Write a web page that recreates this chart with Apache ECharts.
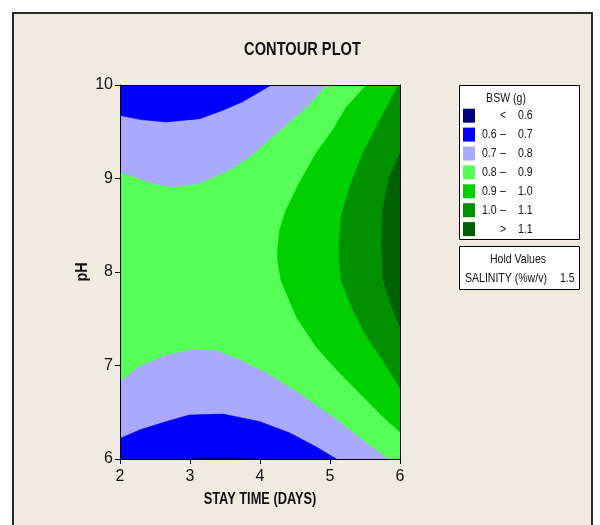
<!DOCTYPE html>
<html><head><meta charset="utf-8">
<script src="https://cdn.jsdelivr.net/npm/echarts@6/dist/echarts.min.js"></script>
<style>html,body{margin:0;padding:0;background:#fff}#c{width:600px;height:525px}</style>
</head><body><div id="c"></div>
<script>
// ---- data ----
const xTicks = [2, 3, 4, 5, 6];          // STAY TIME (DAYS)
const yTicks = [6, 7, 8, 9, 10];         // pH
const levelLow  = ['',  '0.6', '0.7', '0.8', '0.9', '1.0', ''];
const levelSign = ['<', '–',   '–',   '–',   '–',   '–',   '>'];
const levelHigh = ['0.6', '0.7', '0.8', '0.9', '1.0', '1.1', '1.1'];
const levelColors = ['#00007F', '#0000FF', '#A9A9FF', '#55FF55', '#00D000', '#009000', '#006200'];
const titleText = 'CONTOUR PLOT';
const xName = 'STAY TIME (DAYS)';
const yName = 'pH';
const legendTitle = 'BSW (g)';
const holdTitle = 'Hold Values';
const holdName = 'SALINITY (%w/v)';
const holdValue = '1.5';
// contour lines, points as [stay time, pH]
const c07Top = [[2,9.675],[2.3,9.63],[2.66,9.605],[3.14,9.64],[3.47,9.73],[3.75,9.82],[4.16,10]];
const c08Top = [[2,9.07],[2.42,8.96],[2.73,8.91],[3.14,8.95],[3.56,9.09],[3.85,9.23],[4.23,9.48],[4.66,9.76],[4.95,10]];
const c09 = [[5.52,10],[5.23,9.76],[5.04,9.52],[4.80,9.27],[4.56,8.95],[4.37,8.66],[4.28,8.45],[4.25,8.23],[4.25,8.13],[4.30,7.91],[4.52,7.52],[4.80,7.20],[5.14,6.92],[5.52,6.63],[5.80,6.42],[6.0,6.29]];
const c10 = [[5.98,10],[5.71,9.62],[5.47,9.27],[5.28,8.91],[5.16,8.59],[5.13,8.27],[5.13,8.13],[5.16,7.91],[5.33,7.59],[5.52,7.31],[5.75,7.06],[6.0,6.76]];
const c11 = [[6.0,9.27],[5.85,9.02],[5.75,8.66],[5.74,8.27],[5.75,8.13],[5.76,7.91],[5.87,7.66],[6.0,7.41]];
const c08Bot = [[2,6.83],[2.28,6.99],[2.66,7.11],[3.04,7.17],[3.37,7.16],[3.71,7.06],[4.09,6.92],[4.56,6.70],[5.04,6.45],[5.47,6.20],[5.83,6.0]];
const c07Bot = [[2,6.22],[2.28,6.31],[2.66,6.40],[2.99,6.47],[3.47,6.48],[3.99,6.40],[4.42,6.28],[4.80,6.13],[5.09,6.0]];
const c06Bot = [[3.0,6.0],[3.3,6.02],[3.6,6.02],[3.95,6.0]];

// ---- build regions (painted in order) ----
const X0 = xTicks[0], X1 = xTicks[xTicks.length-1], Y0 = yTicks[0], Y1 = yTicks[yTicks.length-1];
const regions = [
  {level: 3, pts: [[X0,Y0],[X1,Y0],[X1,Y1],[X0,Y1]]},
  {level: 2, pts: c08Top.concat([[X0,Y1]])},
  {level: 1, pts: c07Top.concat([[X0,Y1]])},
  {level: 2, pts: c08Bot.concat([[X0,Y0]])},
  {level: 1, pts: c07Bot.concat([[X0,Y0]])},
  {level: 0, pts: c06Bot},
  {level: 4, pts: c09.concat([[X1,Y1]])},
  {level: 5, pts: c10.concat([[X1,Y1]])},
  {level: 6, pts: c11}
];

const FONT = '"Liberation Sans", Arial, sans-serif';
const NARROW = 0.78;
const chart = echarts.init(document.getElementById('c'));

function txt(x, y, text, opt) {
  opt = opt || {};
  return {
    type: 'text', x: x, y: y, scaleX: opt.scaleX || NARROW, scaleY: 1, rotation: opt.rotation || 0, z: 11, silent: true,
    style: {text: text, font: (opt.bold ? 'bold ' : '') + (opt.size || 13.5) + 'px ' + FONT,
            fill: '#111', align: opt.align || 'left', verticalAlign: 'middle'}
  };
}

// grid geometry
const G = {left: 120, right: 200, top: 85, bottom: 66};

const els = [];
els.push({type:'rect', shape:{x:13, y:13, width:579, height:540}, style:{fill:'#EFEBE1', stroke:'#2a2a2a', lineWidth:2}, z:-10, silent:true});
els.push(txt(302.5, 50, titleText, {bold: true, size: 19, align: 'center', scaleX: 0.77}));
els.push(txt(260, 500, xName, {bold: true, size: 16, align: 'center', scaleX: 0.8}));
els.push(txt(83, 272, yName, {bold: true, size: 16, align: 'center', scaleX: 0.9, rotation: Math.PI / 2}));
// legend
els.push({type:'rect', shape:{x:459.5, y:85.5, width:120, height:154}, style:{fill:'#fff', stroke:'#000', lineWidth:1}, z:10, silent:true});
els.push(txt(506, 98, legendTitle, {align: 'center'}));
for (let i = 0; i < levelColors.length; i++) {
  const cy = 115.7 + i * 18.9;
  els.push({type:'rect', shape:{x:463, y:cy-7, width:12, height:14}, style:{fill:levelColors[i]}, z:11, silent:true});
  if (levelLow[i]) els.push(txt(482, cy, levelLow[i]));
  els.push(txt(503, cy, levelSign[i], {align: 'center'}));
  els.push(txt(518, cy, levelHigh[i]));
}
els.push({type:'rect', shape:{x:459.5, y:246.5, width:120, height:43}, style:{fill:'#fff', stroke:'#000', lineWidth:1}, z:10, silent:true});
els.push(txt(518, 259, holdTitle, {align: 'center'}));
els.push(txt(465, 278, holdName));
els.push(txt(560, 278, holdValue));

const axisCommon = {
  type: 'value', z: 10,
  axisLine: {show: true, onZero: false, lineStyle: {color: '#000', width: 1}},
  splitLine: {show: false}
};

chart.setOption({
  backgroundColor: '#ffffff',
  animation: false,
  graphic: els,
  grid: Object.assign({show: false}, G),
  xAxis: [
    Object.assign({}, axisCommon, {
      min: X0, max: X1, interval: 1, position: 'bottom',
      axisTick: {show: true, inside: false, length: 5, lineStyle: {color: '#000'}},
      axisLabel: {margin: 10, fontFamily: FONT, fontSize: 16, color: '#111', formatter: v => String(v)}
    }),
    Object.assign({}, axisCommon, {
      min: X0, max: X1, interval: 1, position: 'top',
      axisTick: {show: false}, axisLabel: {show: false}
    })
  ],
  yAxis: [
    Object.assign({}, axisCommon, {
      min: Y0, max: Y1, interval: 1, position: 'left',
      axisTick: {show: true, inside: false, length: 5, lineStyle: {color: '#000'}},
      axisLabel: {margin: 7, fontFamily: FONT, fontSize: 16, color: '#111', formatter: v => String(v)}
    }),
    Object.assign({}, axisCommon, {
      min: Y0, max: Y1, interval: 1, position: 'right',
      axisTick: {show: false}, axisLabel: {show: false}
    })
  ],
  series: [{
    type: 'custom',
    name: 'BSW (g)',
    coordinateSystem: 'cartesian2d',
    xAxisIndex: 0, yAxisIndex: 0,
    clip: true, silent: true, z: 2,
    data: regions.map(r => r.pts[0]),
    renderItem: (params, api) => {
      const r = regions[params.dataIndex];
      const col = levelColors[r.level];
      return {
        type: 'polygon',
        shape: {points: r.pts.map(p => api.coord(p))},
        style: {fill: col, stroke: col, lineWidth: 0.6}
      };
    }
  }]
});
</script>
</body></html>
